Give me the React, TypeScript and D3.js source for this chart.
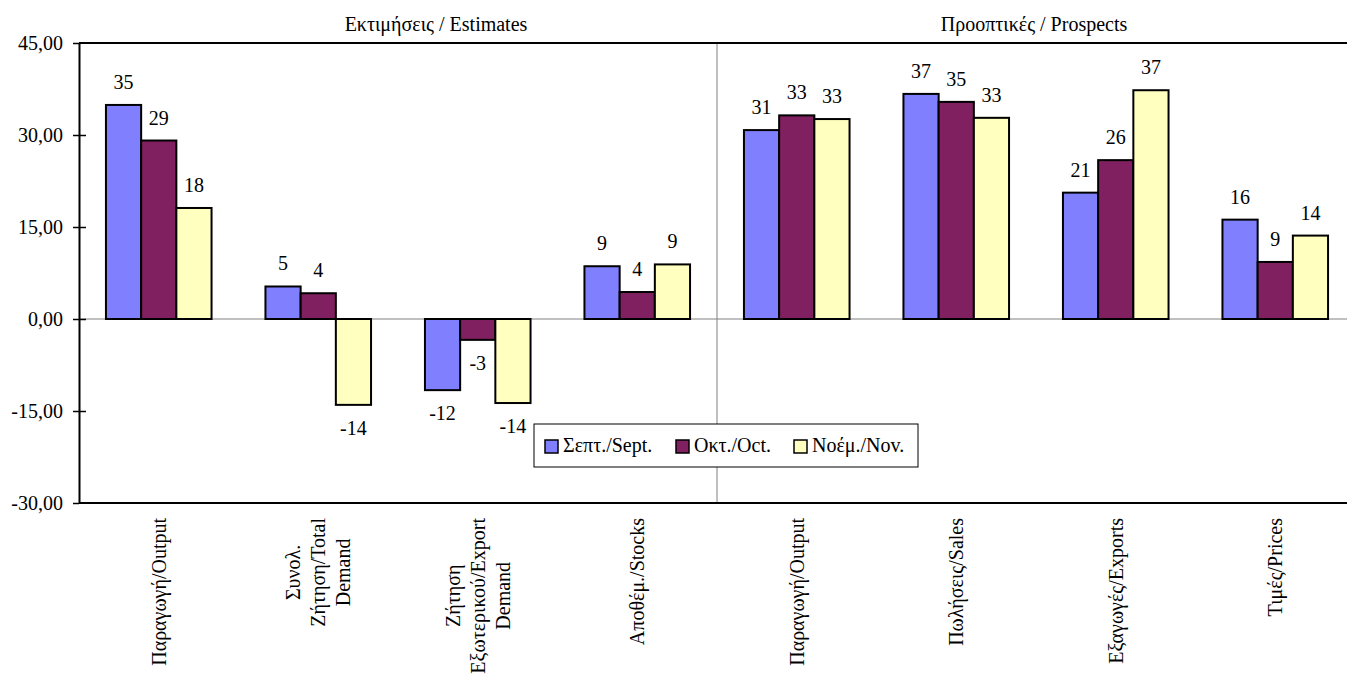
import React, { useEffect, useRef } from "react";
import * as d3 from "d3";

const categoryLabels: string[][] = [
  ["Παραγωγή/Output"],
  ["Συνολ.", "Ζήτηση/Total", "Demand"],
  ["Ζήτηση", "Εξωτερικού/Export", "Demand"],
  ["Αποθέμ./Stocks"],
  ["Παραγωγή/Output"],
  ["Πωλήσεις/Sales"],
  ["Εξαγωγές/Exports"],
  ["Τιμές/Prices"],
];

const seriesNames = ["Σεπτ./Sept.", "Οκτ./Oct.", "Νοέμ./Nov."];
const septValues = [34.9, 5.3, -11.6, 8.6, 30.8, 36.7, 20.6, 16.2];
const octValues = [29.1, 4.2, -3.4, 4.4, 33.2, 35.4, 25.9, 9.3];
const novValues = [18.1, -14.0, -13.7, 8.9, 32.6, 32.8, 37.3, 13.6];
const seriesColors = ["#8080ff", "#802060", "#ffffc0"];

const yTicks = [-30, -15, 0, 15, 30, 45];
const sectionTitles = ["Εκτιμήσεις / Estimates", "Προοπτικές / Prospects"];

const W = 1347;
const H = 681;
const FONT = "Liberation Serif";

export default function App() {
  const ref = useRef<SVGSVGElement>(null);

  useEffect(() => {
    document.body.style.margin = "0";
    const svg = d3.select(ref.current);
    svg.selectAll("*").remove();

    const left = 79;
    const top = 43;
    const bottom = 503;
    const nCat = categoryLabels.length;
    const step = 159.5;
    const rightEnd = left + nCat * step;

    const x = d3
      .scaleBand<number>()
      .domain(d3.range(nCat))
      .range([left, rightEnd])
      .paddingInner(0.338)
      .paddingOuter(0.169);
    const xs = d3
      .scaleBand<number>()
      .domain([0, 1, 2])
      .range([0, x.bandwidth()])
      .padding(0);
    const y = d3.scaleLinear().domain([-30, 45]).range([bottom, top]);

    const series = [septValues, octValues, novValues];
    const locale = d3.formatLocale({
      decimal: ",",
      thousands: ".",
      grouping: [3],
      currency: ["", "€"],
      minus: "-",
    });
    const fmt = locale.format(".2f");

    const g = svg.append("g").style("font-family", FONT).attr("fill", "#000");

    // zero line
    g.append("line")
      .attr("x1", left)
      .attr("x2", W)
      .attr("y1", y(0))
      .attr("y2", y(0))
      .attr("stroke", "#808080")
      .attr("stroke-width", 1);

    // divider between sections
    const divX = (x(3)! + x.bandwidth() + x(4)!) / 2;
    g.append("line")
      .attr("x1", divX)
      .attr("x2", divX)
      .attr("y1", top)
      .attr("y2", bottom)
      .attr("stroke", "#808080")
      .attr("stroke-width", 1);

    // bars
    series.forEach((vals, si) => {
      g.append("g")
        .selectAll("rect")
        .data(vals)
        .join("rect")
        .attr("x", (_, i) => x(i)! + xs(si)!)
        .attr("width", xs.bandwidth())
        .attr("y", (v) => (v >= 0 ? y(v) : y(0)))
        .attr("height", (v) => Math.abs(y(v) - y(0)))
        .attr("fill", seriesColors[si])
        .attr("stroke", "#000")
        .attr("stroke-width", 2);
    });

    // data labels
    series.forEach((vals, si) => {
      g.append("g")
        .selectAll("text")
        .data(vals)
        .join("text")
        .attr("x", (_, i) => x(i)! + xs(si)! + xs.bandwidth() / 2)
        .attr("y", (v) => (v >= 0 ? y(v) - 23 : y(v) + 23))
        .attr("dy", "0.35em")
        .attr("text-anchor", "middle")
        .style("font-size", "20px")
        .style("font-family", FONT)
        .text((v) => String(Math.round(v)));
    });

    // frame lines
    g.append("line")
      .attr("x1", left)
      .attr("x2", W)
      .attr("y1", top)
      .attr("y2", top)
      .attr("stroke", "#000")
      .attr("stroke-width", 2);
    g.append("line")
      .attr("x1", left)
      .attr("x2", W)
      .attr("y1", bottom)
      .attr("y2", bottom)
      .attr("stroke", "#000")
      .attr("stroke-width", 2);

    // y axis
    const yAxis = d3
      .axisLeft(y)
      .tickValues(yTicks)
      .tickFormat((d) => fmt(d as number))
      .tickSizeInner(6)
      .tickSizeOuter(0)
      .tickPadding(10);
    const ya = g.append("g").attr("transform", `translate(${left},0)`).call(yAxis);
    ya.attr("font-family", null).attr("font-size", null);
    ya.select(".domain").attr("stroke", "#000").attr("stroke-width", 2);
    ya.selectAll(".tick line")
      .attr("stroke", "#000")
      .attr("stroke-width", 1.5)
      .attr("x2", -6)
      .attr("x1", (d: any) => (d === 45 || d === -30 ? 0 : 7));
    ya.selectAll(".tick text")
      .style("font-size", "20px")
      .style("font-family", FONT)
      .attr("fill", "#000")
      .attr("x", -16);

    // category labels (rotated)
    categoryLabels.forEach((lines, i) => {
      const cx = x(i)! + x.bandwidth() / 2;
      const lg = g.append("g");
      const texts = lines.map((ln) =>
        lg
          .append("text")
          .style("font-size", "20px")
          .style("font-family", FONT)
          .attr("text-anchor", "middle")
          .attr("dominant-baseline", "central")
          .text(ln)
      );
      const maxLen = d3.max(texts, (t) => (t.node() as SVGTextElement).getComputedTextLength()) || 0;
      const cy = 518 + maxLen / 2;
      texts.forEach((t, li) => {
        const lx = cx + (li - (lines.length - 1) / 2) * 25;
        t.attr("transform", `translate(${lx},${cy}) rotate(-90)`);
      });
    });

    // section titles
    const secCenters = [(left + divX) / 2 + 38, (divX + rightEnd) / 2 - 2];
    sectionTitles.forEach((t, i) => {
      g.append("text")
        .attr("x", secCenters[i])
        .attr("y", 31)
        .attr("text-anchor", "middle")
        .style("font-size", "20px")
        .style("font-family", FONT)
        .text(t);
    });

    // legend
    const lgX = 534;
    const lgY = 424;
    const legend = g.append("g").attr("transform", `translate(${lgX},${lgY})`);
    legend
      .append("rect")
      .attr("width", 384)
      .attr("height", 43)
      .attr("fill", "#fff")
      .attr("stroke", "#000")
      .attr("stroke-width", 1);
    const itemOffsets = [11, 142, 260];
    seriesNames.forEach((name, si) => {
      const it = legend.append("g").attr("transform", `translate(${itemOffsets[si]},0)`);
      it.append("rect")
        .attr("x", 0)
        .attr("y", 16)
        .attr("width", 13)
        .attr("height", 13)
        .attr("fill", seriesColors[si])
        .attr("stroke", "#000")
        .attr("stroke-width", 1.5);
      it.append("text")
        .attr("x", 18)
        .attr("y", 28)
        .style("font-size", "20px")
        .style("font-family", FONT)
        .text(name);
    });
  }, []);

  return <svg ref={ref} width={W} height={H} style={{ display: "block", background: "#fff" }} />;
}
